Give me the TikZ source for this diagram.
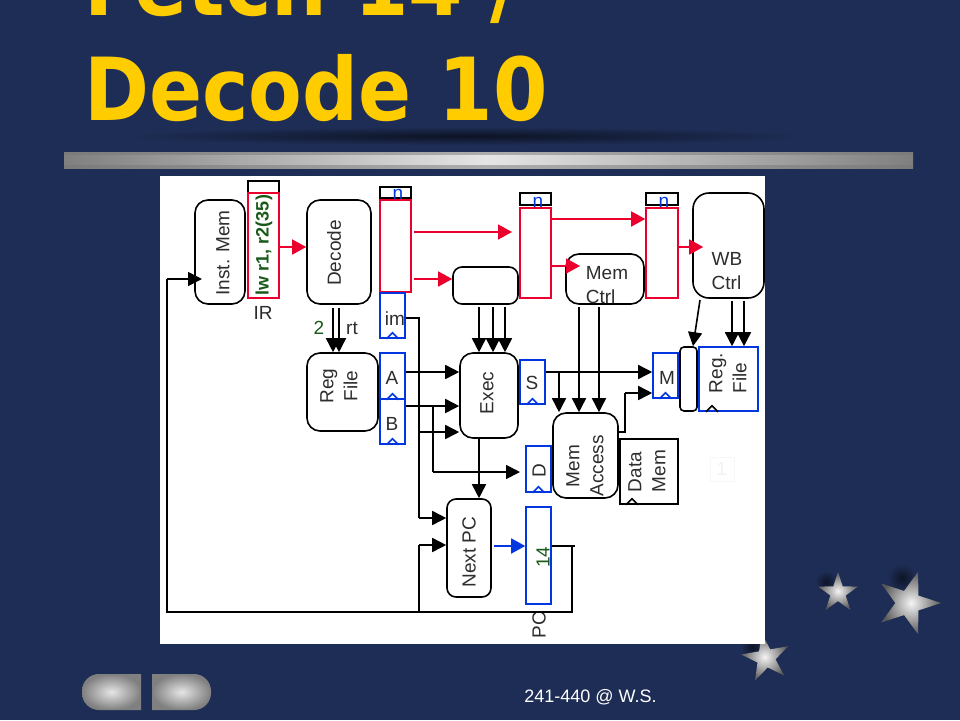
\documentclass[tikz,border=0pt]{standalone}
\usepackage{fontspec}
\setsansfont{Liberation Sans}
\newfontfamily\titlefont{DejaVu Sans}
\usetikzlibrary{positioning}
\usetikzlibrary{arrows.meta}
\usetikzlibrary{shapes.geometric}
\definecolor{slidebg}{RGB}{30,45,85}
\definecolor{titlegold}{RGB}{255,204,0}
\definecolor{wirered}{RGB}{235,0,45}
\definecolor{wireblue}{RGB}{0,55,225}
\definecolor{labelgreen}{RGB}{25,90,25}
\definecolor{inkgray}{RGB}{45,45,45}
\tikzset{unit/.style = {draw=black, line width=1.6pt, rounded corners=13pt, inner sep=0}}
\tikzset{latchred/.style = {draw=wirered, line width=1.6pt, inner sep=0}}
\tikzset{latchblue/.style = {draw=wireblue, line width=1.6pt, inner sep=0}}
\tikzset{latchtop/.style = {draw=black, line width=1.6pt, inner sep=0}}
\tikzset{txt/.style = {font=\sffamily\fontsize{19}{24}\selectfont, text=inkgray, inner sep=0}}
\tikzset{headline/.style = {font=\titlefont\bfseries\fontsize{87}{87}\selectfont, text=titlegold, anchor=base west, inner sep=0, xscale=0.9}}
\tikzset{wire/.style = {line width=1.6pt, -{Triangle[length=14pt,width=14pt]}}}
\tikzset{plainwire/.style = {line width=1.6pt}}
\tikzset{redwire/.style = {wire, draw=wirered, -{Triangle[length=14pt,width=15pt,color=wirered]}}}
\tikzset{bluewire/.style = {wire, draw=wireblue, -{Triangle[length=14pt,width=15pt,color=wireblue]}}}
\tikzset{sparkle/.style = {star, star points=5, star point ratio=2.6, inner sep=0,
                           inner color=white!92!gray, outer color=black!65}}
\tikzset{clk/.pic = {\draw[line width=1.6pt, pic actions] (-6,0) -- (0,-6) -- (6,0);}}
\begin{document}
\begin{tikzpicture}[x=1pt,y=-1pt]
    \useasboundingbox (0,0) rectangle (960,720);
    \fill[slidebg] (0,0) rectangle (960,720);
    % title and rule
    \node[headline] (fetchline) at (84,16) {Fetch 14 /};
    \node[headline] (decodeline) at (84,120) {Decode 10};
    \shade[inner color=black!30!slidebg!60!black, outer color=slidebg] (465,136) ellipse [x radius=345, y radius=9];
    \shade[left color=black!52, right color=black!52, middle color=black!32] (64,152) rectangle (913,155);
    \shade[left color=black!50, right color=black!50, middle color=black!10] (64,155) rectangle (913,165);
    \shade[left color=black!52, right color=black!52, middle color=black!32] (64,165) rectangle (913,168);
    % stars, partly under the sheet
    \shade[inner color=black!55!slidebg, outer color=slidebg] (826,582) circle [radius=11];
    \shade[inner color=black!55!slidebg, outer color=slidebg] (902,578) circle [radius=14];
    \shade[inner color=black!55!slidebg, outer color=slidebg] (752,647) circle [radius=11];
    \node[sparkle, minimum size=42pt] (starmid) at (838,593) {};
    \node[sparkle, minimum size=66pt, rotate=-18] (starbig) at (908,603) {};
    \node[sparkle, minimum size=50pt, rotate=10] (starlow) at (766,658) {};
    % nav buttons
    \shade[inner color=black!10, outer color=black!50] (141,674) [rounded corners=17pt] -- (82,674) -- (82,710) [sharp corners] -- (141,710) -- cycle;
    \shade[inner color=black!10, outer color=black!50] (152,674) [rounded corners=17pt] -- (211,674) -- (211,710) [sharp corners] -- (152,710) -- cycle;
    \node[font=\sffamily\fontsize{18}{18}\selectfont, text=white, inner sep=0] (footer) at (590.5,697) {241-440 @ W.S.};
    % the sheet
    \fill[white] (160,176) rectangle (765,644);
    \node[txt, draw=black!3, line width=0.6pt, text=black!5, minimum size=24pt] (faintbox) at (722,469) {1};
    % units
    \node[unit, minimum width=50pt, minimum height=104pt] (instmem) at (220,252) {};
    \node[unit, minimum width=64pt, minimum height=104pt] (decode) at (339,252) {};
    \node[unit, minimum width=71pt, minimum height=78pt] (regfile) at (342.5,392) {};
    \node[unit, minimum width=65pt, minimum height=37pt, rounded corners=9pt] (ctrlbox) at (485.5,285.5) {};
    \node[unit, minimum width=58pt, minimum height=85pt] (exec) at (489,395.5) {};
    \node[unit, minimum width=78pt, minimum height=50pt] (memctrl) at (605,279) {};
    \node[unit, minimum width=71pt, minimum height=105pt, rounded corners=16pt] (wbctrl) at (728.5,245.5) {};
    \node[unit, minimum width=65pt, minimum height=85pt] (memaccess) at (585.5,455.5) {};
    \node[unit, minimum width=44pt, minimum height=98pt, rounded corners=9pt] (nextpc) at (469,548) {};
    \node[unit, minimum width=17pt, minimum height=64pt, rounded corners=4pt] (wbmux) at (688.5,379) {};
    \node[latchtop, minimum width=58pt, minimum height=65pt] (datamem) at (649,471.5) {};
    % latches
    \node[latchtop, minimum width=31pt, minimum height=12pt] (irtop) at (263.5,187) {};
    \node[latchred, minimum width=31pt, minimum height=105pt] (irreg) at (263.5,245.5) {};
    \node[latchtop, minimum width=31pt, minimum height=11pt] (dxtop) at (395.5,192.5) {};
    \node[latchred, minimum width=31pt, minimum height=92pt] (dxreg) at (395.5,246) {};
    \node[latchtop, minimum width=31pt, minimum height=12pt] (xmtop) at (535.5,199) {};
    \node[latchred, minimum width=31pt, minimum height=90pt] (xmreg) at (535.5,253) {};
    \node[latchtop, minimum width=32pt, minimum height=12pt] (mwtop) at (662,199) {};
    \node[latchred, minimum width=32pt, minimum height=90pt] (mwreg) at (662,253) {};
    \node[latchblue, minimum width=25pt, minimum height=45pt] (imreg) at (392.5,315.5) {};
    \node[latchblue, minimum width=25pt, minimum height=46pt] (areg) at (392.5,376) {};
    \node[latchblue, minimum width=25pt, minimum height=45pt] (breg) at (392.5,421.5) {};
    \node[latchblue, minimum width=25pt, minimum height=44pt] (sreg) at (532.5,382) {};
    \node[latchblue, minimum width=25pt, minimum height=45pt] (mreg) at (665.5,375.5) {};
    \node[latchblue, minimum width=25pt, minimum height=46pt] (dreg) at (538.5,469) {};
    \node[latchblue, minimum width=25pt, minimum height=97pt] (pcreg) at (538.5,555.5) {};
    \node[latchblue, minimum width=59pt, minimum height=64pt] (wbfile) at (728.5,379) {};
    % clocks
    \pic[draw=wireblue] at (imreg.south) {clk};
    \pic[draw=wireblue] at (areg.south) {clk};
    \pic[draw=wireblue] at (breg.south) {clk};
    \pic[draw=wireblue] at (sreg.south) {clk};
    \pic[draw=wireblue] at (mreg.south) {clk};
    \pic[draw=wireblue] at (dreg.south) {clk};
    \pic[draw=black] at (wbfile.south -| 712,0) {clk};
    \pic[draw=black] at (datamem.south -| 632,0) {clk};
    % labels
    \node[txt, rotate=90] (instmemtxt) at (223,253) {Inst. Mem};
    \node[txt, rotate=90, font=\sffamily\bfseries\fontsize{18}{18}\selectfont, text=labelgreen] (irtxt) at (264,245) {lw r1, r2(35)};
    \node[txt] (irlabel) at (263,313) {IR};
    \node[txt, rotate=90] (decodetxt) at (334,253) {Decode};
    \node[txt, text=labelgreen] (twotxt) at (319,328) {2};
    \node[txt] (rttxt) at (352,328) {rt};
    \node[txt, rotate=90, align=center] (regfiletxt) at (339,386) {Reg\\File};
    \node[txt, text=wireblue] (ntxta) at (398,194) {n};
    \node[txt, text=wireblue] (ntxtb) at (538,202) {n};
    \node[txt, text=wireblue] (ntxtc) at (664,202) {n};
    \node[txt] (imtxt) at (395,319) {im};
    \node[txt] (atxt) at (392,378) {A};
    \node[txt] (btxt) at (392,424) {B};
    \node[txt, rotate=90] (exectxt) at (487,393) {Exec};
    \node[txt] (stxt) at (532,383) {S};
    \node[txt] (mtxt) at (667,378) {M};
    \node[txt, rotate=90] (dtxt) at (539,471) {D};
    \node[txt, align=left] (memctrltxt) at (607,285.5) {Mem\\Ctrl};
    \node[txt, align=left] (wbctrltxt) at (727,271) {WB\\Ctrl};
    \node[txt, rotate=90, align=left] (wbfiletxt) at (728,373) {Reg.\\File};
    \node[txt, rotate=90, align=center] (memaccesstxt) at (585,466) {Mem\\Access};
    \node[txt, rotate=90, align=left] (datamemtxt) at (647,471) {Data\\Mem};
    \node[txt, rotate=90] (nextpctxt) at (469,552) {Next PC};
    \node[txt, rotate=90, text=labelgreen] (fourteen) at (543,557) {14};
    \node[txt, rotate=90] (pctxt) at (539,625) {PC};
    % red wires
    \coordinate (xmtip) at (512,232);
    \coordinate (memctrltip) at (580,266);
    \draw[redwire] (irreg.east |- 0,247) -- (decode.west |- 0,247);
    \draw[redwire] (dxreg.east |- xmtip) ++(2,0) -- (xmtip);
    \draw[redwire] (dxreg.east |- 0,279) ++(2,0) -- (ctrlbox.west |- 0,279);
    \draw[redwire] (xmreg.east |- 0,219) -- (mwreg.west |- 0,219);
    \draw[redwire] (xmreg.east |- memctrltip) -- (memctrltip);
    \draw[redwire] (mwreg.east |- 0,247) -- (wbctrl.west |- 0,247) -- ++(11,0);
    % black wires
    \draw[wire] (decode.south -| 333,0) ++(0,3) -- (regfile.north -| 333,0);
    \draw[wire] (decode.south -| 339,0) ++(0,3) -- (regfile.north -| 339,0);
    \coordinate (imturn) at (419,318);
    \coordinate (imexec) at (419,432);
    \coordinate (imnext) at (419,518);
    \coordinate (bbranch) at (433,406);
    \coordinate (bdown) at (433,472);
    \coordinate (dtip) at (520,472);
    \draw[plainwire] (imreg.east |- imturn) -- (imturn) -- (imnext);
    \draw[wire] (imnext) -- (nextpc.west |- imnext);
    \draw[wire] (imexec) -- (exec.west |- imexec);
    \draw[wire] (areg.east |- 0,372) -- (exec.west |- 0,372);
    \draw[wire] (breg.east |- bbranch) -- (exec.west |- bbranch);
    \draw[plainwire] (bbranch) -- (bdown);
    \draw[wire] (bdown) -- (dtip);
    \draw[wire] (ctrlbox.south -| 479,0) ++(0,2) -- (exec.north -| 479,0);
    \draw[wire] (ctrlbox.south -| 493,0) ++(0,2) -- (exec.north -| 493,0);
    \draw[wire] (ctrlbox.south -| 505,0) ++(0,2) -- (exec.north -| 505,0);
    \draw[wire] (exec.south -| 479,0) -- (nextpc.north -| 479,0);
    \draw[bluewire] (nextpc.east |- 0,546) ++(2,0) -- (pcreg.west |- 0,546);
    \coordinate (pcout) at (575,546);
    \coordinate (pcdown) at (572,612);
    \coordinate (pcleft) at (167,612);
    \coordinate (pcup) at (167,279);
    \coordinate (pcbranch) at (419,612);
    \coordinate (pcnext) at (419,545);
    \coordinate (instmemtip) at (202,279);
    \draw[plainwire] (pcreg.east |- pcout) -- (pcout);
    \draw[plainwire] (pcdown |- pcout) -- (pcdown) -- (pcleft) -- (pcup);
    \draw[wire] (pcup) -- (instmemtip);
    \draw[plainwire] (pcbranch) -- (pcnext);
    \draw[wire] (pcnext) -- (nextpc.west |- pcnext);
    \coordinate (sbranch) at (559,372);
    \draw[wire] (sreg.east |- sbranch) -- (mreg.west |- sbranch);
    \draw[wire] (sbranch) -- (memaccess.north -| sbranch);
    \draw[wire] (memctrl.south -| 579,0) ++(0,2) -- (memaccess.north -| 579,0);
    \draw[wire] (memctrl.south -| 599,0) ++(0,2) -- (memaccess.north -| 599,0);
    \coordinate (maout) at (625,432);
    \coordinate (maup) at (625,393);
    \draw[plainwire] (memaccess.east |- maout) -- (maout) -- (maup);
    \draw[wire] (maup) -- (mreg.west |- maup);
    \coordinate (wbfoot) at (700,300);
    \draw[wire] (wbfoot) -- (wbmux.north -| 693,0);
    \draw[wire] (wbctrl.south -| 732,0) ++(0,2) -- (wbfile.north -| 732,0);
    \draw[wire] (wbctrl.south -| 744,0) ++(0,2) -- (wbfile.north -| 744,0);
\end{tikzpicture}
\end{document}
